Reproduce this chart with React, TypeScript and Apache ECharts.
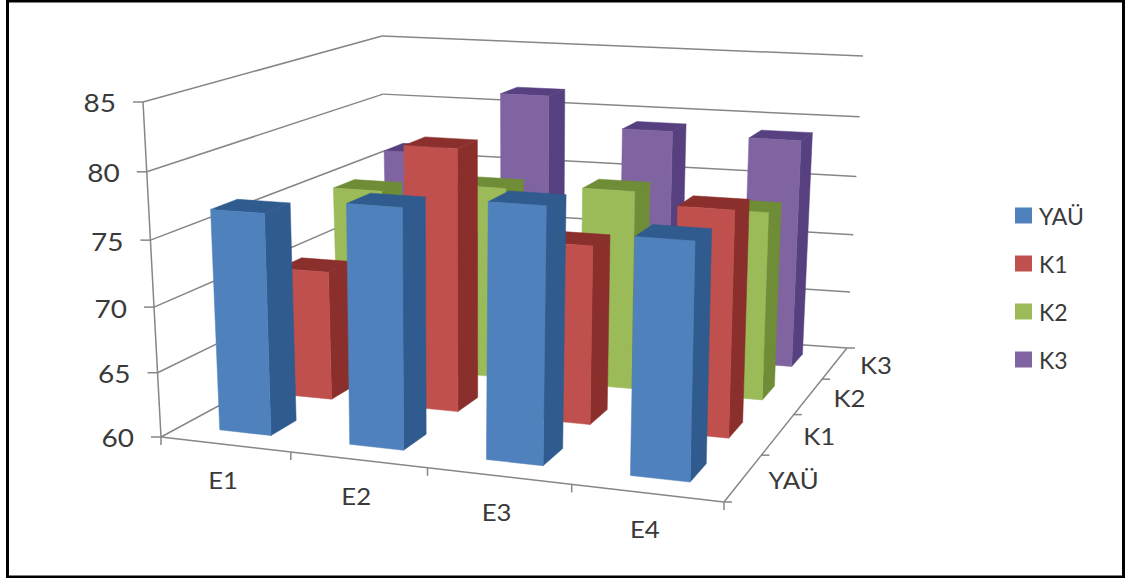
import React, { useEffect, useRef } from "react";
import * as echarts from "echarts";

const W = 1125;
const H = 578;

const categories = ["E1", "E2", "E3", "E4"];
const depthLabels = ["YAÜ", "K1", "K2", "K3"];
const valueTicks = [60, 65, 70, 75, 80, 85];

const yauValues = [76.9, 78.05, 78.9, 77.2];
const k1Values = [70.3, 80.55, 73.9, 77.3];
const k2Values = [74.85, 75.7, 76.1, 75.1];
const k3Values = [76.3, 81.6, 79.2, 79.0];

const seriesValues = [yauValues, k1Values, k2Values, k3Values];
const frontColors = ["#4F81BD", "#C0504D", "#9BBB59", "#8064A2"];
const shadeColors = ["#2F5B8E", "#8B2F2D", "#6F8C36", "#57407F"];

const FONT = "Lato, 'Open Sans', sans-serif";
const AXIS_COLOR = "#868686";
const TEXT_COLOR = "#3a3a3a";
const BAR_SHARE = 0.4; // gap width and gap depth of 150%
const WIDTH_SKEW = 1.059; // foreshortening along the category direction
const HEIGHT_SKEW = 0.95; // foreshortening along the value direction

// Corners of the plot box on screen: floor plane and plane at the axis maximum
const floorCorners = [[161, 437], [724, 502], [847, 348], [387, 315]];
const topCorners = [[143, 102], [731, 136], [863, 56], [382, 36]];

// Maps the unit square onto a quadrilateral
function quadMap([A, B, C, D]: number[][]) {
  const dx1 = B[0] - C[0], dx2 = D[0] - C[0], sx = A[0] - B[0] + C[0] - D[0];
  const dy1 = B[1] - C[1], dy2 = D[1] - C[1], sy = A[1] - B[1] + C[1] - D[1];
  const det = dx1 * dy2 - dx2 * dy1;
  const g = (sx * dy2 - dx2 * sy) / det;
  const h = (dx1 * sy - sx * dy1) / det;
  const a = B[0] - A[0] + g * B[0], b = D[0] - A[0] + h * D[0];
  const d = B[1] - A[1] + g * B[1], e = D[1] - A[1] + h * D[1];
  return (u: number, v: number) => {
    const z = g * u + h * v + 1;
    return [(a * u + b * v + A[0]) / z, (d * u + e * v + A[1]) / z];
  };
}

const floorMap = quadMap(floorCorners);
const topMap = quadMap(topCorners);
const skew = (t: number, k: number) => (k * t) / (1 + (k - 1) * t);

function project(u: number, v: number, w: number): number[] {
  const p = floorMap(skew(u, WIDTH_SKEW), v);
  const q = topMap(skew(u, WIDTH_SKEW - 0.05 * v), v);
  const t = skew(w, HEIGHT_SKEW);
  return [p[0] + (q[0] - p[0]) * t, p[1] + (q[1] - p[1]) * t];
}

// Floor lines, walls, ticks and texts of the 3D box
function boxElements(): any[] {
  const out: any[] = [];
  const line = (p: number[], q: number[], lineWidth = 1.5) =>
    out.push({
      type: "line",
      z: 0,
      silent: true,
      shape: { x1: p[0], y1: p[1], x2: q[0], y2: q[1] },
      style: { stroke: AXIS_COLOR, lineWidth },
    });
  const label = (text: string, x: number, y: number, align: string, fontSize: number) =>
    out.push({
      type: "text",
      z: 0,
      silent: true,
      x,
      y,
      scaleX: 1.12,
      style: { text, fontFamily: FONT, fontSize, fill: TEXT_COLOR, align, verticalAlign: "middle" },
    });

  // Frame round the whole chart
  out.push({
    type: "rect",
    z: -1,
    silent: true,
    shape: { x: 7.5, y: 1, width: W - 9, height: H - 2 },
    style: { fill: "#fff", stroke: "#000", lineWidth: 3 },
  });

  for (const t of valueTicks) {
    const w = (t - valueTicks[0]) / (valueTicks[valueTicks.length - 1] - valueTicks[0]);
    const front = project(0, 0, w);
    const corner = project(0, 1, w);
    const right = project(1, 1, w);
    line(front, corner);
    line(corner, right);
    line(front, [front[0] - 10, front[1]]);
    label(String(t), front[0] - 27, front[1] + 1, "right", 25);
  }
  line(project(0, 0, 0), project(0, 0, 1));
  line(project(0, 0, 0), project(1, 0, 0));
  line(project(1, 0, 0), project(1, 1, 0));

  categories.forEach((name, i) => {
    const p = project(i / categories.length, 0, 0);
    line(p, [p[0], p[1] + 8]);
    const c = project((i + 0.5) / categories.length, 0, 0);
    label(name, c[0] - 2, c[1] + 36, "center", 23);
  });
  const last = project(1, 0, 0);
  line(last, [last[0], last[1] + 8]);

  depthLabels.forEach((name, j) => {
    const p = project(1, j / depthLabels.length, 0);
    line(p, [p[0] + 8, p[1]]);
    const c = project(1, (j + 0.5) / depthLabels.length, 0);
    label(name, c[0] + 25, c[1] + 2, "left", 23);
  });
  const end = project(1, 1, 0);
  line(end, [end[0] + 8, end[1]]);
  return out;
}

// One 3D column: side and top in the shaded colour, then the front face
function renderColumn(params: any, api: any) {
  const s = params.seriesIndex;
  const base = api.coord([api.value(0), valueTicks[0]]);
  const peak = api.coord([api.value(0), api.value(1)]);
  const cell = api.size([1, 0])[0] / W;
  const uMid = base[0] / W;
  const w = 1 - peak[1] / H;
  const u0 = uMid - (cell * BAR_SHARE) / 2;
  const u1 = uMid + (cell * BAR_SHARE) / 2;
  const dCell = 1 / depthLabels.length;
  const v0 = (s + 0.5 - BAR_SHARE / 2) * dCell;
  const v1 = (s + 0.5 + BAR_SHARE / 2) * dCell;

  const face = (points: number[][], fill: string) => ({
    type: "polygon",
    silent: true,
    shape: { points },
    style: { fill, stroke: fill, lineWidth: 0.5 },
  });
  return {
    type: "group",
    children: [
      face(
        [project(u1, v0, 0), project(u1, v1, 0), project(u1, v1, w), project(u1, v0, w)],
        shadeColors[s]
      ),
      face(
        [project(u0, v0, w), project(u1, v0, w), project(u1, v1, w), project(u0, v1, w)],
        shadeColors[s]
      ),
      face(
        [project(u0, v0, 0), project(u1, v0, 0), project(u1, v0, w), project(u0, v0, w)],
        frontColors[s]
      ),
    ],
  };
}

export default function App() {
  const ref = useRef<HTMLDivElement>(null);

  useEffect(() => {
    const chart = echarts.init(ref.current!, undefined, { renderer: "svg" });
    chart.setOption({
      animation: false,
      backgroundColor: "#fff",
      grid: { left: 0, right: 0, top: 0, bottom: 0 },
      xAxis: { type: "category", data: categories, show: false },
      yAxis: {
        type: "value",
        min: valueTicks[0],
        max: valueTicks[valueTicks.length - 1],
        interval: 5,
        show: false,
      },
      legend: {
        data: depthLabels,
        orient: "vertical",
        left: 1015,
        top: 204,
        padding: 0,
        itemWidth: 17,
        itemHeight: 16,
        itemGap: 25,
        icon: "rect",
        selectedMode: false,
        textStyle: { fontFamily: FONT, fontSize: 23, color: TEXT_COLOR, padding: [0, 0, 0, 2] },
      },
      graphic: { elements: boxElements() },
      series: depthLabels.map((name, s) => ({
        type: "custom",
        name,
        z: 10 - s,
        itemStyle: { color: frontColors[s] },
        renderItem: renderColumn,
        encode: { x: 0, y: 1 },
        data: seriesValues[s].map((v, i) => [i, v]),
      })),
    });
    return () => chart.dispose();
  }, []);

  return <div ref={ref} style={{ position: "absolute", left: 0, top: 0, width: W, height: H }} />;
}
